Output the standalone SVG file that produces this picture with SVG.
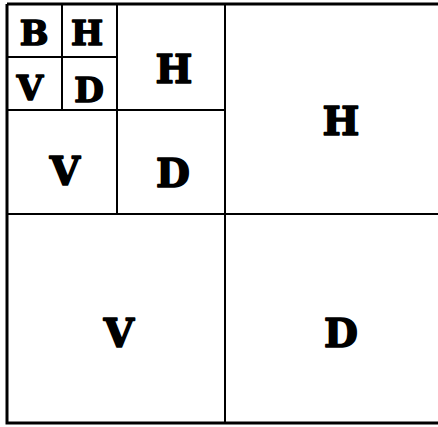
<svg xmlns="http://www.w3.org/2000/svg" width="438" height="427" viewBox="0 0 438 427">
<style>
.ln{stroke:#000;stroke-width:2;fill:none}
.ob{stroke:#000;stroke-width:3;fill:none}
.t{font-family:"DejaVu Serif","Liberation Serif",serif;font-weight:bold;text-anchor:middle;fill:#000;stroke:#000;stroke-width:1.6;stroke-linejoin:round}
.s{font-size:34px}
.m{font-size:39px}
</style>
<rect width="438" height="427" fill="#fff"/>
<g id="connectors">
<path class="ob" d="M7,4 H442 M7,4 V423 H442"/>
<path class="ln" d="M225,4 V423 M7,214 H440"/>
<path class="ln" d="M117,4 V214 M7,110 H225"/>
<path class="ln" d="M62,4 V110 M7,57 H117"/>
</g>
<g id="B"><text class="t s" x="34" y="45">B</text></g>
<g id="H3"><text class="t s" x="87" y="45">H</text></g>
<g id="V3"><text class="t s" x="30" y="100">V</text></g>
<g id="D3"><text class="t s" x="89" y="102">D</text></g>
<g id="H2"><text class="t m" x="174" y="83">H</text></g>
<g id="V2"><text class="t m" x="65" y="185">V</text></g>
<g id="D2"><text class="t m" x="173" y="187">D</text></g>
<g id="H1"><text class="t m" x="341" y="135">H</text></g>
<g id="V1"><text class="t m" x="119" y="347">V</text></g>
<g id="D1"><text class="t m" x="341" y="347">D</text></g>
</svg>
